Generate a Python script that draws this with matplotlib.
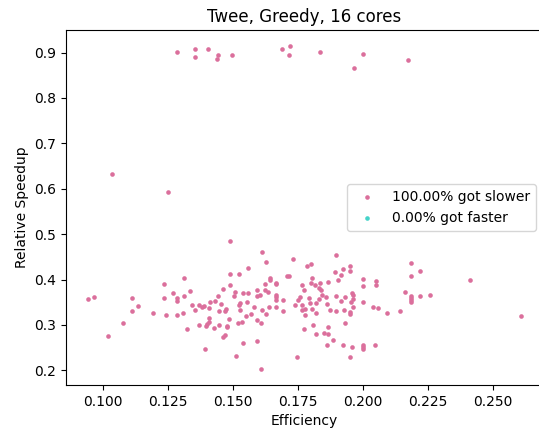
import numpy as np
import matplotlib
matplotlib.use("Agg")
import matplotlib.pyplot as plt

# efficiency / relative speedup per run
efficiency = [
    0.1287, 0.1354, 0.1354, 0.1405, 0.1440, 0.1445, 0.1496, 0.1691, 0.1719, 0.1717,
    0.1835, 0.2001, 0.1965, 0.2174, 0.1035, 0.1251,
    0.0942, 0.0967, 0.1020, 0.1079, 0.1113, 0.1113, 0.1135, 0.1192, 0.1236, 0.1237,
    0.1242, 0.1270, 0.1286, 0.1287, 0.1287, 0.1312, 0.1313, 0.1310, 0.1325, 0.1336,
    0.1343, 0.1356, 0.1369, 0.1370, 0.1382, 0.1391, 0.1393, 0.1396, 0.1400, 0.1409,
    0.1412, 0.1408, 0.1410, 0.1429, 0.1432, 0.1445, 0.1448, 0.1448, 0.1456, 0.1463,
    0.1469, 0.1473, 0.1463, 0.1470, 0.1477, 0.1479, 0.1487, 0.1488, 0.1491, 0.1491,
    0.1508, 0.1505, 0.1513, 0.1523, 0.1525, 0.1529, 0.1529, 0.1535, 0.1519, 0.1538,
    0.1538, 0.1551, 0.1554, 0.1558, 0.1559, 0.1569, 0.1581, 0.1592, 0.1595, 0.1595,
    0.1595, 0.1605, 0.1608, 0.1609, 0.1613, 0.1613, 0.1623, 0.1623, 0.1629, 0.1629,
    0.1635, 0.1640, 0.1642, 0.1642, 0.1667, 0.1667, 0.1667, 0.1667, 0.1667, 0.1667,
    0.1693, 0.1693, 0.1708, 0.1718, 0.1732, 0.1741, 0.1746, 0.1751, 0.1757, 0.1767,
    0.1767, 0.1767, 0.1773, 0.1774, 0.1778, 0.1778, 0.1787, 0.1800, 0.1792, 0.1796,
    0.1801, 0.1804, 0.1806, 0.1808, 0.1818, 0.1819, 0.1819, 0.1819, 0.1831, 0.1833,
    0.1837, 0.1838, 0.1842, 0.1852, 0.1858, 0.1862, 0.1862, 0.1865, 0.1865, 0.1865,
    0.1875, 0.1887, 0.1893, 0.1897, 0.1897, 0.1897, 0.1905, 0.1915, 0.1915, 0.1923,
    0.1924, 0.1928, 0.1932, 0.1931, 0.1952, 0.1952, 0.1951, 0.1951, 0.1951, 0.1958,
    0.1960, 0.1962, 0.1956, 0.1962, 0.1964, 0.2000, 0.2000, 0.2000, 0.2000, 0.2000,
    0.2000, 0.2041, 0.2046, 0.2051, 0.2051, 0.2059, 0.2093, 0.2143, 0.2163, 0.2187,
    0.2187, 0.2187, 0.2187, 0.2187, 0.2187, 0.2222, 0.2222, 0.2258, 0.2413, 0.2608,
]
speedup = [
    0.9009, 0.9075, 0.8906, 0.9088, 0.8855, 0.8956, 0.8943, 0.9088, 0.9141, 0.8943,
    0.9015, 0.8965, 0.8658, 0.8846, 0.6315, 0.5935,
    0.3571, 0.3608, 0.2765, 0.3037, 0.3586, 0.3301, 0.3410, 0.3270, 0.3894, 0.3586,
    0.3220, 0.3703, 0.3599, 0.3533, 0.3220, 0.3630, 0.4038, 0.3257, 0.2912, 0.3746,
    0.3432, 0.3329, 0.3446, 0.3007, 0.3402, 0.3417, 0.2480, 0.2978, 0.3015, 0.3373,
    0.3511, 0.3154, 0.3072, 0.2928, 0.3533, 0.3637, 0.3307, 0.3000, 0.3468, 0.3790,
    0.3314, 0.3358, 0.2737, 0.2780, 0.2985, 0.2963, 0.3138, 0.3872, 0.4859, 0.4120,
    0.3718, 0.3630, 0.2313, 0.3432, 0.4126, 0.3476, 0.3329, 0.3066, 0.3050, 0.3696,
    0.2605, 0.3204, 0.3511, 0.3696, 0.4245, 0.3235, 0.3395, 0.3762, 0.3630, 0.3110,
    0.2642, 0.3659, 0.2034, 0.3050, 0.4609, 0.3323, 0.3900, 0.3762, 0.4398, 0.3248,
    0.3718, 0.3402, 0.4025, 0.3988, 0.3929, 0.3894, 0.3659, 0.3608, 0.3549, 0.3395,
    0.3555, 0.3301, 0.4082, 0.4082, 0.4449, 0.3446, 0.2304, 0.3555, 0.3608, 0.3885,
    0.3446, 0.3323, 0.3762, 0.2912, 0.3358, 0.3220, 0.4302, 0.4333, 0.3593, 0.3476,
    0.3922, 0.4038, 0.3345, 0.3000, 0.3878, 0.3476, 0.2802, 0.3270, 0.3577, 0.3812,
    0.3922, 0.3768, 0.3652, 0.2824, 0.3615, 0.3468, 0.2561, 0.3951, 0.2949, 0.2802,
    0.3336, 0.2677, 0.4157, 0.4537, 0.3643, 0.3314, 0.3981, 0.4091, 0.3520, 0.4236,
    0.2554, 0.3323, 0.3615, 0.3050, 0.4295, 0.4179, 0.3285, 0.3248, 0.2297, 0.2517,
    0.3703, 0.3665, 0.3505, 0.3395, 0.3577, 0.4003, 0.3863, 0.3505, 0.2567, 0.2517,
    0.2473, 0.3402, 0.2561, 0.3966, 0.3878, 0.3380, 0.3263, 0.3307, 0.3731, 0.4368,
    0.4076, 0.3637, 0.3593, 0.3542, 0.3505, 0.4192, 0.3643, 0.3665, 0.3994, 0.3191,
]

efficiency = np.array(efficiency)
speedup = np.array(speedup)

slower = speedup < 1
faster = ~slower
pct_slower = 100 * slower.mean()
pct_faster = 100 * faster.mean()

fig = plt.figure(figsize=(5.39, 4.28), dpi=100)
# the original was cropped on the right, so the axes run slightly past the edge
ax = fig.add_axes([0.1224, 0.1005, 0.884, 0.8294])

ax.scatter(efficiency[slower], speedup[slower], s=11, color="#db6f9c", linewidths=0,
           label=f"{pct_slower:.2f}% got slower")
ax.scatter(efficiency[faster], speedup[faster], s=11, color="#45d3c9", linewidths=0,
           label=f"{pct_faster:.2f}% got faster")

ax.set_title("Twee, Greedy, 16 cores")
ax.set_xlabel("Efficiency")
ax.set_ylabel("Relative Speedup")
ax.legend(loc="center right")

fig.savefig("out.png", dpi=100)
